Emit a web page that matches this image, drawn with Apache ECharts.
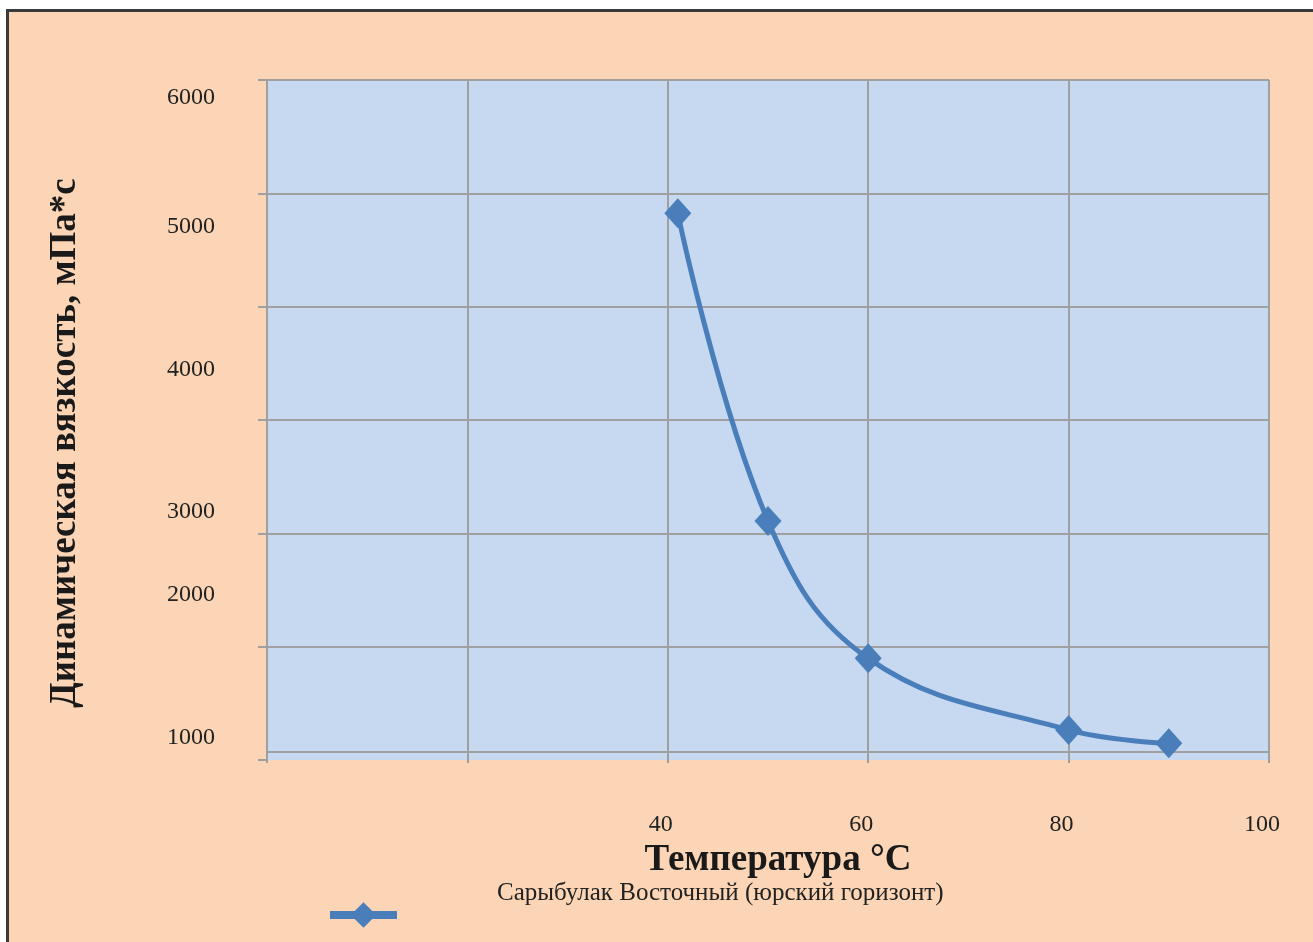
<!DOCTYPE html>
<html>
<head>
<meta charset="utf-8">
<script src="https://cdn.jsdelivr.net/npm/echarts@6/dist/echarts.min.js"></script>
<style>
  html, body { margin: 0; padding: 0; background: #ffffff; }
  body { width: 1313px; height: 942px; position: relative; overflow: hidden; }
  #frame {
    position: absolute; left: 6px; top: 9px; width: 1320px; height: 950px;
    background: #FBD5B5; border-left: 3px solid #3a3a3a; border-top: 3px solid #3a3a3a;
  }
  #chart { position: absolute; left: 0; top: 0; width: 1313px; height: 942px; }
</style>
</head>
<body>
<div id="frame"></div>
<div id="chart"></div>
<script>
// Viscosity vs temperature, Sarybulak East (Jurassic horizon)
const seriesName = 'Сарыбулак Восточный (юрский горизонт)';
const temperature = [41, 50, 60, 80, 90];
const viscosity = [4824, 2109, 897, 265, 147];

// x axis: only these ticks carry a label
const xLabelled = [40, 60, 80, 100];

// y axis tick texts and the axis values where each text sits
const yTickLabels = ['6000', '5000', '4000', '3000', '2000', '1000'];
const yTickLabelAt = [5841, 4706, 3441, 2188, 1456, 197];

const serif = 'Liberation Serif';
const gridColor = '#a0a0a0';
const lineColor = '#4A7EBB';

const chart = echarts.init(document.getElementById('chart'), null, { renderer: 'canvas' });

chart.setOption({
  animation: false,
  backgroundColor: 'transparent',
  grid: {
    left: 267, top: 80, width: 1002, height: 680,
    show: true, backgroundColor: '#C6D9F1', borderWidth: 0
  },
  legend: [
    {
      data: [seriesName], left: 492, top: 881, padding: 0,
      icon: 'none', itemWidth: 0, itemHeight: 14,
      selectedMode: false,
      textStyle: { fontFamily: serif, fontSize: 25, color: '#222' }
    },
    {
      data: [seriesName], left: 326, top: 899, padding: 0,
      itemWidth: 67, itemHeight: 32,
      selectedMode: false,
      lineStyle: { width: 8 },
      formatter: () => '',
      textStyle: { fontSize: 1 }
    }
  ],
  xAxis: {
    type: 'value', min: 0, max: 100, interval: 20,
    offset: -8,
    name: 'Температура °C',
    nameLocation: 'middle', nameGap: 87,
    nameTextStyle: { fontFamily: serif, fontSize: 37, fontWeight: 'bold', color: '#1a1a1a', padding: [0, 0, 0, 20] },
    axisLine: { show: true, lineStyle: { color: gridColor, width: 2 } },
    axisTick: { show: true, length: 11, lineStyle: { color: gridColor, width: 2 } },
    splitLine: { show: true, lineStyle: { color: gridColor, width: 2 } },
    axisLabel: {
      margin: 61, padding: [0, 14, 0, 0],
      fontFamily: serif, fontSize: 24, color: '#222',
      formatter: v => (xLabelled.indexOf(v) >= 0 ? String(v) : '')
    }
  },
  yAxis: [
    {
      type: 'value', min: 0, max: 6000, interval: 1000,
      name: 'Динамическая вязкость, мПа*с',
      nameLocation: 'middle', nameRotate: 90, nameGap: 183,
      nameTextStyle: { fontFamily: serif, fontSize: 37, fontWeight: 'bold', color: '#1a1a1a', padding: [0, 46, 0, 0] },
      axisLine: { show: true, lineStyle: { color: gridColor, width: 2 } },
      axisTick: { show: true, length: 9, lineStyle: { color: gridColor, width: 2 } },
      splitLine: { show: true, showMinLine: false, lineStyle: { color: gridColor, width: 2 } },
      axisLabel: { show: false }
    },
    {
      type: 'value', min: 0, max: 6000, position: 'left',
      axisLine: { show: false }, axisTick: { show: false }, splitLine: { show: false },
      axisLabel: {
        show: true, margin: 52,
        customValues: yTickLabelAt,
        fontFamily: serif, fontSize: 24, color: '#222',
        formatter: v => {
          const i = yTickLabelAt.indexOf(v);
          return i >= 0 ? yTickLabels[i] : '';
        }
      }
    }
  ],
  series: [
    {
      name: seriesName,
      type: 'line',
      xAxisIndex: 0, yAxisIndex: 0,
      data: temperature.map((t, i) => [t, viscosity[i]]),
      smooth: 0.4,
      symbol: 'diamond',
      symbolSize: [27, 30],
      itemStyle: { color: lineColor },
      lineStyle: { color: lineColor, width: 5 }
    }
  ]
});
</script>
</body>
</html>
